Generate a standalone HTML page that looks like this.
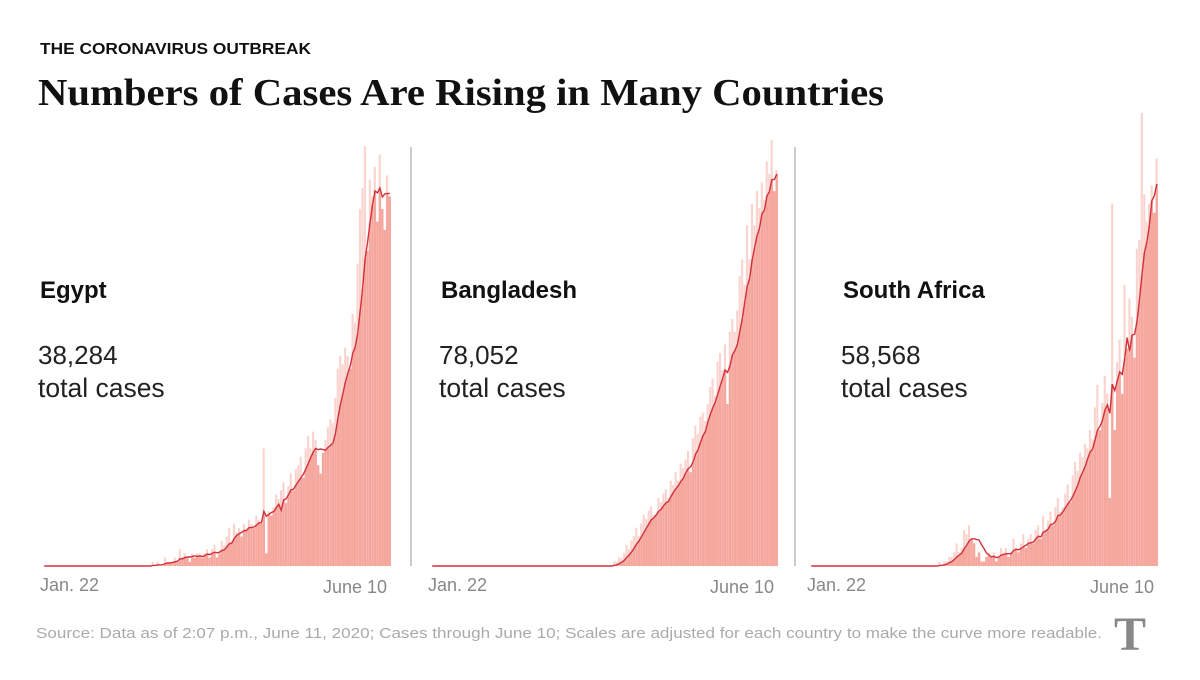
<!DOCTYPE html>
<html><head><meta charset="utf-8"><style>
body{margin:0;background:#fff;}
svg text{font-family:"Liberation Sans",sans-serif;}
</style></head><body>
<svg id="chart" width="1200" height="675" viewBox="0 0 1200 675" xmlns="http://www.w3.org/2000/svg">
<text x="40" y="54" font-size="15.5" font-weight="bold" fill="#111" textLength="271" lengthAdjust="spacingAndGlyphs">THE CORONAVIRUS OUTBREAK</text>
<text x="38" y="105" font-size="38" font-weight="bold" fill="#111" textLength="846" lengthAdjust="spacingAndGlyphs" style="font-family:'Liberation Serif',serif">Numbers of Cases Are Rising in Many Countries</text>
<line x1="411" y1="147" x2="411" y2="566" stroke="#999" stroke-width="1"/>
<line x1="795" y1="147" x2="795" y2="566" stroke="#999" stroke-width="1"/>
<g id="panels"></g>
<text x="36" y="638" font-size="15" fill="#aaa" textLength="1066" lengthAdjust="spacingAndGlyphs">Source: Data as of 2:07 p.m., June 11, 2020; Cases through June 10; Scales are adjusted for each country to make the curve more readable.</text>
<g>
<text x="1130" y="650" font-size="48" font-weight="bold" fill="#888" text-anchor="middle" style="font-family:'Liberation Serif',serif">T</text>
</g>
</svg>
<script>
const countries = ["Egypt","Bangladesh","South Africa"];
const totals = ["38,284","78,052","58,568"];
const dateLabels = ["Jan. 22","June 10"];
const egyptDaily = [0,0,0,0,0,0,0,0,0,0,0,0,0,0,0,0,0,0,0,0,0,0,0,0,0,0,0,0,0,0,0,0,0,0,0,0,0,0,0,0,0,0,0,
0,1,0,1,0,0,2,1,1,1, 2,1,4,2,3,2,1,3,2,3, 3,2,3,4,2,4,5,2,3,6, 5,7,9,6,10,8,9,7,10,9,
11,10,9,12,11,10,28,3,13,12, 14,17,16,18,20,15,19,22,18,23, 24,26,21,28,31,28,32,30,24,22,
27,30,33,35,34,40,47,50,48,52, 50,47,60,58,72,85,90,100,75,92, 88,95,82,98,85,80,93,88];
const bangladeshDaily = [0,0,0,0,0,0,0,0,0,0,0,0,0,0,0,0,0,0,0,0,0,0,0,0,0,0,0,0,0,0,0,0,0,0,0,0,0,0,0,0,0,0,0,0,0,0,0,0,0,0,0,0,0,0,0,0,0,0,0,0,0,0,0,0,0,0,0,0,0,0,0,0,0,
0,1,1,2,2,3,5,4,6,7, 9,7,10,12,11,13,14,12,12,16, 15,17,18,16,20,19,22,20,24,23,
25,27,22,30,33,31,35,36,34,38, 42,44,40,48,50,46,52,38,55,58, 55,60,68,72,66,80,72,85,80,88, 84,90,86,95,92,100,88,93];
const southAfricaDaily = [0,0,0,0,0,0,0,0,0,0,0,0,0,0,0,0,0,0,0,0,0,0,0,0,0,0,0,0,0,0,0,0,0,0,0,0,0,0,0,0,0,0,0,0,0,0,0,0,0,0,
0,0,1,0,1,1,2,2,3,5, 3,4,8,7,9,6,5,2,3,1, 1,2,3,2,3,1,2,4,3,4, 2,3,6,4,3,5,7,4,6,7,
5,8,9,6,11,8,10,12,9,13, 15,12,13,16,18,14,20,23,21,25, 24,27,26,30,28,35,40,30,36,42,
38,15,80,30,45,50,38,62,48,59, 55,46,70,72,100,82,76,80,84,78, 90];
const series=[egyptDaily,bangladeshDaily,southAfricaDaily];
const geo=[{x0:43,x1:391,top:146,tx:40},{x0:431,x1:778,top:140,tx:441},{x0:810,x1:1158,top:113,tx:843}];
const base=566, NS="http://www.w3.org/2000/svg";
const root=document.getElementById('panels');
function mk(t,a,p){const e=document.createElementNS(NS,t);for(const k in a)e.setAttribute(k,a[k]);p.appendChild(e);return e;}
series.forEach((d,ci)=>{
  const g=geo[ci];const n=d.length;const max=Math.max(...d);
  const xs=i=>g.x0+(i+0.5)*(g.x1-g.x0)/n;
  const ys=v=>base-v/max*(base-g.top);
  const bw=(g.x1-g.x0)/n;
  const pg=mk('g',{},root);
  
  
  const avg=d.map((v,i)=>{let s=0,c=0;for(let j=Math.max(0,i-6);j<=i;j++){s+=d[j];c++;}return s/c;});
  d.forEach((v,i)=>{
    const y=ys(v), ya=ys(avg[i]);
    const b=mk('rect',{x:xs(i)-bw/2,y:y,width:bw*0.85,height:base-y,fill:'#fbd3ce'},pg);
    
    
    const top=Math.max(y,ya);
    const b2=mk('rect',{x:xs(i)-bw/2,y:top,width:bw*0.85+0.3,height:base-top,fill:'#f6a79d'},pg);
    
    
  });
  const pts=avg.map((v,i)=>xs(i).toFixed(1)+','+ys(v).toFixed(1)).join(' ');
  const l=mk('polyline',{points:pts,fill:'none',stroke:'#d0313c','stroke-width':1.4},pg);
  
  
  const t1=mk('text',{x:g.tx,y:298,'font-size':24,'font-weight':'bold',fill:'#111'},pg);t1.textContent=countries[ci];
  
  
  const t2=mk('text',{x:g.tx-2,y:364,'font-size':26,fill:'#222'},pg);t2.textContent=totals[ci];
  
  
  const t3=mk('text',{x:g.tx-2,y:397,'font-size':26.5,fill:'#222'},pg);t3.textContent='total cases';
  
  
  const a1=mk('text',{x:g.x0-3,y:591,'font-size':18,fill:'#888'},pg);a1.textContent=dateLabels[0];
  
  
  const a2=mk('text',{x:g.x1-4,y:593,'font-size':18,fill:'#888','text-anchor':'end'},pg);a2.textContent=dateLabels[1];
  
  
});
</script>
</body></html>
